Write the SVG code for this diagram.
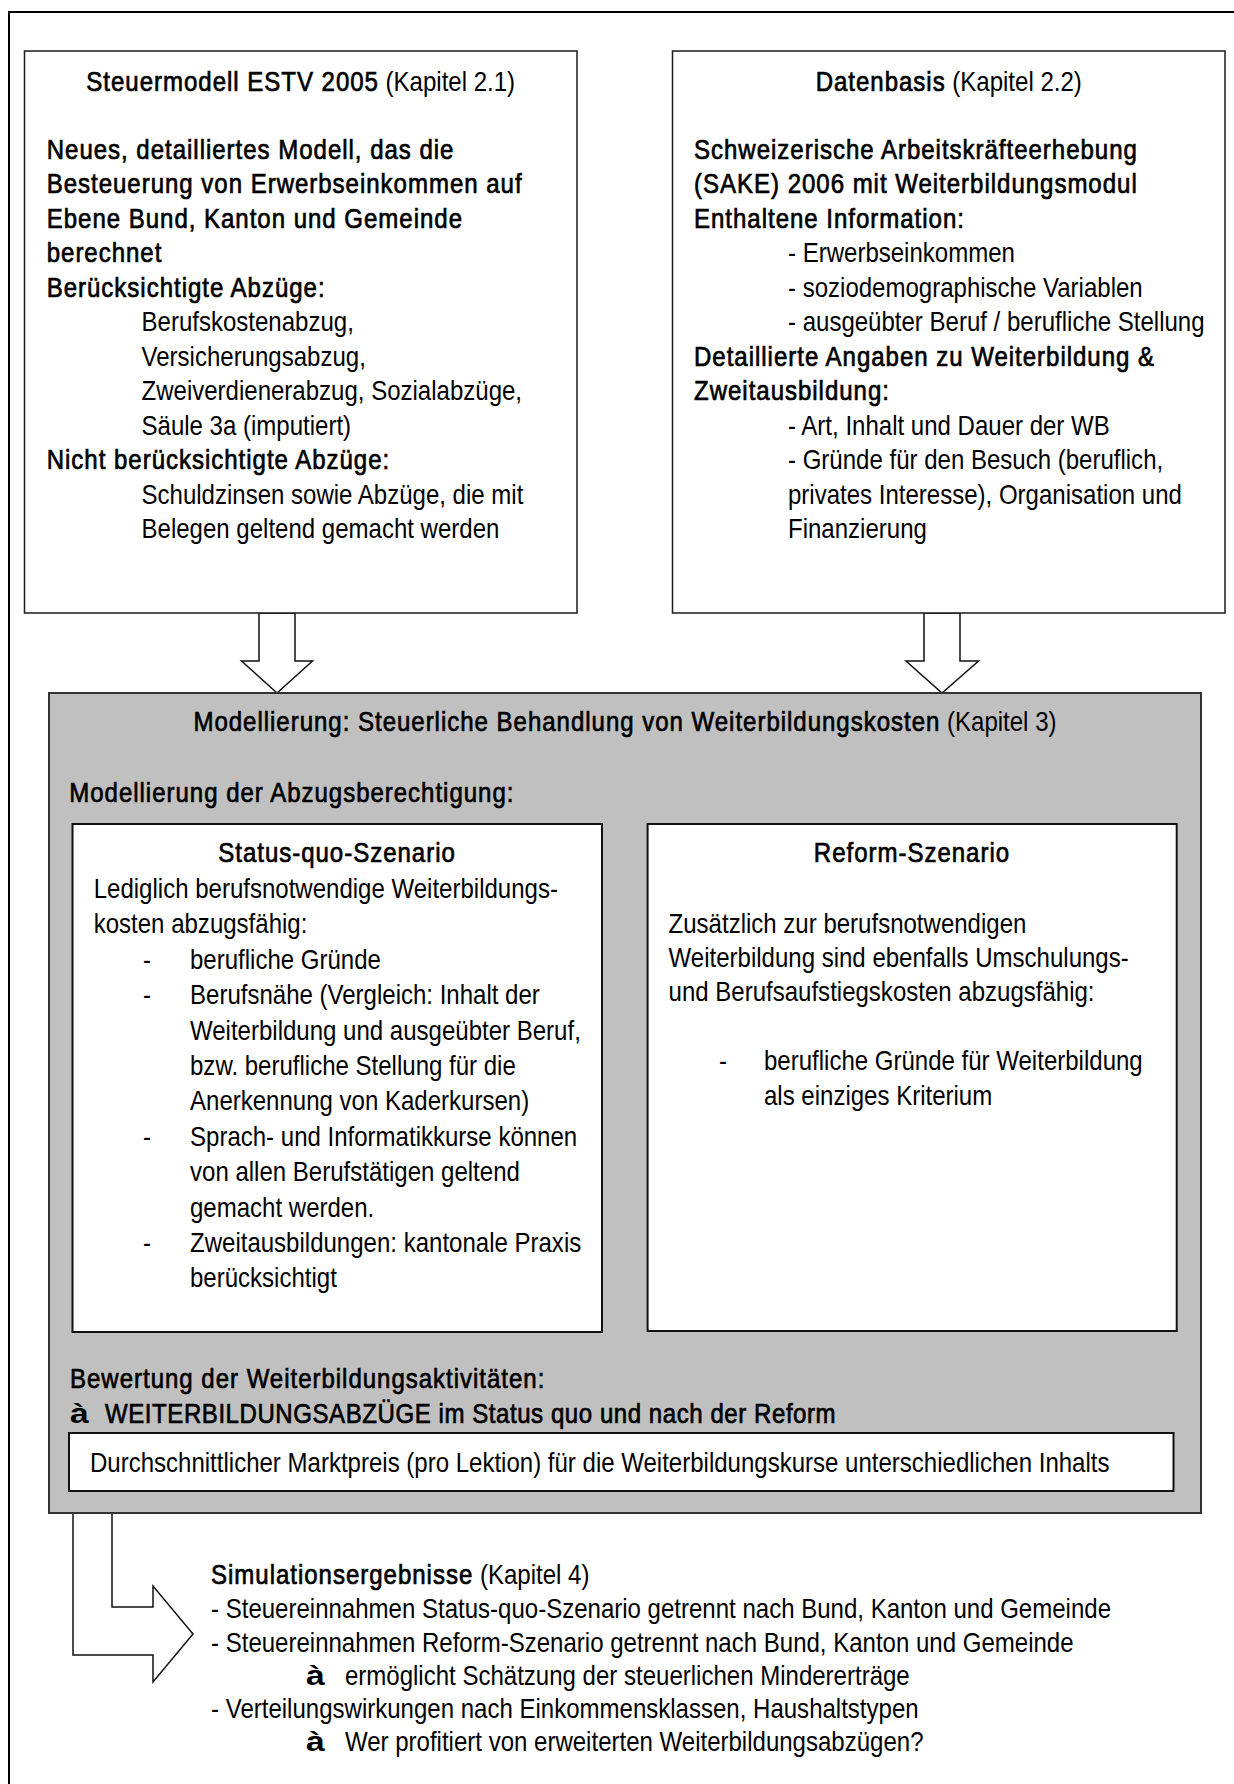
<svg xmlns="http://www.w3.org/2000/svg" width="1234" height="1784" viewBox="0 0 1234 1784">
<style>
text{font-family:"Liberation Sans",Arial,sans-serif;font-size:27px;fill:#000}
.b{stroke:#000;stroke-width:0.7;letter-spacing:1.1px}
.c{text-anchor:middle}
.box{fill:#fff;stroke:#1a1a1a;stroke-width:1.5}
.gray{fill:#c0c0c0;stroke:#333;stroke-width:2}
.inner{fill:#fff;stroke:#111;stroke-width:2}
.arrow{fill:#fff;stroke:#111;stroke-width:1.5;stroke-linejoin:miter}
.ar{font-weight:700}
</style>
<rect width="1234" height="1784" fill="#fff"/>
<rect id="frame" x="9" y="12" width="1240" height="1800" fill="none" stroke="#000" stroke-width="2"/>

<g id="connectors">
<polygon class="arrow" points="259,613 295,613 295,661 312.5,661 277,693 241.5,661 259,661"/>
<polygon class="arrow" points="924,613 960,613 960,661 978.5,661 942,693 906,661 924,661"/>
<polygon class="arrow" points="73,1513 112,1513 112,1607 153,1607 153,1586 193,1634 153,1682 153,1655 73,1655"/>
</g>

<g id="steuermodell">
<rect class="box" x="24.5" y="51" width="552.5" height="562"/>
<g transform="scale(0.89 1)">
<text class="c" x="337.9" y="91"><tspan class="b">Steuermodell ESTV 2005</tspan> (Kapitel 2.1)</text>
<text class="b" x="52.5" y="159">Neues, detailliertes Modell, das die</text>
<text class="b" x="52.5" y="193.5">Besteuerung von Erwerbseinkommen auf</text>
<text class="b" x="52.5" y="228">Ebene Bund, Kanton und Gemeinde</text>
<text class="b" x="52.5" y="262.5">berechnet</text>
<text class="b" x="52.5" y="297">Berücksichtigte Abzüge:</text>
<text x="159" y="331.5">Berufskostenabzug,</text>
<text x="159" y="366">Versicherungsabzug,</text>
<text x="159" y="400.5">Zweiverdienerabzug, Sozialabzüge,</text>
<text x="159" y="435">Säule 3a (imputiert)</text>
<text class="b" x="52.5" y="469.5">Nicht berücksichtigte Abzüge:</text>
<text x="159" y="504">Schuldzinsen sowie Abzüge, die mit</text>
<text x="159" y="538.5">Belegen geltend gemacht werden</text>
</g>
</g>

<g id="datenbasis">
<rect class="box" x="672.5" y="51" width="552.5" height="562"/>
<g transform="scale(0.89 1)">
<text class="c" x="1066" y="91"><tspan class="b">Datenbasis</tspan> (Kapitel 2.2)</text>
<text class="b" x="779.8" y="159">Schweizerische Arbeitskräfteerhebung</text>
<text class="b" x="779.8" y="193.5">(SAKE) 2006 mit Weiterbildungsmodul</text>
<text class="b" x="779.8" y="228">Enthaltene Information:</text>
<text x="885.4" y="262.5">- Erwerbseinkommen</text>
<text x="885.4" y="297">- soziodemographische Variablen</text>
<text x="885.4" y="331.5">- ausgeübter Beruf / berufliche Stellung</text>
<text class="b" x="779.8" y="366">Detaillierte Angaben zu Weiterbildung &amp;</text>
<text class="b" x="779.8" y="400.5">Zweitausbildung:</text>
<text x="885.4" y="435">- Art, Inhalt und Dauer der WB</text>
<text x="885.4" y="469.5">- Gründe für den Besuch (beruflich,</text>
<text x="885.4" y="504">privates Interesse), Organisation und</text>
<text x="885.4" y="538.5">Finanzierung</text>
</g>
</g>

<g id="modellierung">
<rect class="gray" x="49" y="693" width="1152" height="820"/>
<g transform="scale(0.89 1)">
<text class="c" x="702.2" y="731"><tspan class="b">Modellierung: Steuerliche Behandlung von Weiterbildungskosten</tspan> (Kapitel 3)</text>
<text class="b" x="77.8" y="802">Modellierung der Abzugsberechtigung:</text>
<text class="b" x="78.7" y="1388">Bewertung der Weiterbildungsaktivitäten:</text>
<text class="b" x="118" y="1423" textLength="822" lengthAdjust="spacing">WEITERBILDUNGSABZÜGE im Status quo und nach der Reform</text>
</g>
<text class="ar" transform="translate(70 1423) scale(1.25 1)">à</text>

<g id="status-quo">
<rect class="inner" x="72.5" y="824" width="529.5" height="508"/>
<g transform="scale(0.89 1)">
<text class="b c" x="378.7" y="862">Status-quo-Szenario</text>
<text x="105.3" y="898">Lediglich berufsnotwendige Weiterbildungs-</text>
<text x="105.3" y="933.4">kosten abzugsfähig:</text>
<text x="160.7" y="968.8">-</text>
<text x="213.5" y="968.8">berufliche Gründe</text>
<text x="160.7" y="1004.2">-</text>
<text x="213.5" y="1004.2">Berufsnähe (Vergleich: Inhalt der</text>
<text x="213.5" y="1039.6">Weiterbildung und ausgeübter Beruf,</text>
<text x="213.5" y="1075">bzw. berufliche Stellung für die</text>
<text x="213.5" y="1110.4">Anerkennung von Kaderkursen)</text>
<text x="160.7" y="1145.8">-</text>
<text x="213.5" y="1145.8">Sprach- und Informatikkurse können</text>
<text x="213.5" y="1181.2">von allen Berufstätigen geltend</text>
<text x="213.5" y="1216.6">gemacht werden.</text>
<text x="160.7" y="1252">-</text>
<text x="213.5" y="1252">Zweitausbildungen: kantonale Praxis</text>
<text x="213.5" y="1287.4">berücksichtigt</text>
</g>
</g>

<g id="reform">
<rect class="inner" x="647.6" y="824" width="529.1" height="507"/>
<g transform="scale(0.89 1)">
<text class="b c" x="1024.7" y="862">Reform-Szenario</text>
<text x="751.2" y="932.7">Zusätzlich zur berufsnotwendigen</text>
<text x="751.2" y="967">Weiterbildung sind ebenfalls Umschulungs-</text>
<text x="751.2" y="1001.5">und Berufsaufstiegskosten abzugsfähig:</text>
<text x="807.9" y="1070">-</text>
<text x="858.4" y="1070">berufliche Gründe für Weiterbildung</text>
<text x="858.4" y="1105">als einziges Kriterium</text>
</g>
</g>

<g id="marktpreis">
<rect class="inner" x="69" y="1433" width="1104.5" height="58"/>
<g transform="scale(0.89 1)">
<text x="101.1" y="1472">Durchschnittlicher Marktpreis (pro Lektion) für die Weiterbildungskurse unterschiedlichen Inhalts</text>
</g>
</g>
</g>

<g id="simulation">
<g transform="scale(0.89 1)">
<text x="237.1" y="1584"><tspan class="b">Simulationsergebnisse</tspan> (Kapitel 4)</text>
<text x="237.1" y="1618">- Steuereinnahmen Status-quo-Szenario getrennt nach Bund, Kanton und Gemeinde</text>
<text x="237.1" y="1652">- Steuereinnahmen Reform-Szenario getrennt nach Bund, Kanton und Gemeinde</text>
<text x="387.6" y="1685">ermöglicht Schätzung der steuerlichen Mindererträge</text>
<text x="237.1" y="1718">- Verteilungswirkungen nach Einkommensklassen, Haushaltstypen</text>
<text x="387.6" y="1751">Wer profitiert von erweiterten Weiterbildungsabzügen?</text>
</g>
<text class="ar" transform="translate(306 1685) scale(1.25 1)">à</text>
<text class="ar" transform="translate(306 1751) scale(1.25 1)">à</text>
</g>
</svg>
